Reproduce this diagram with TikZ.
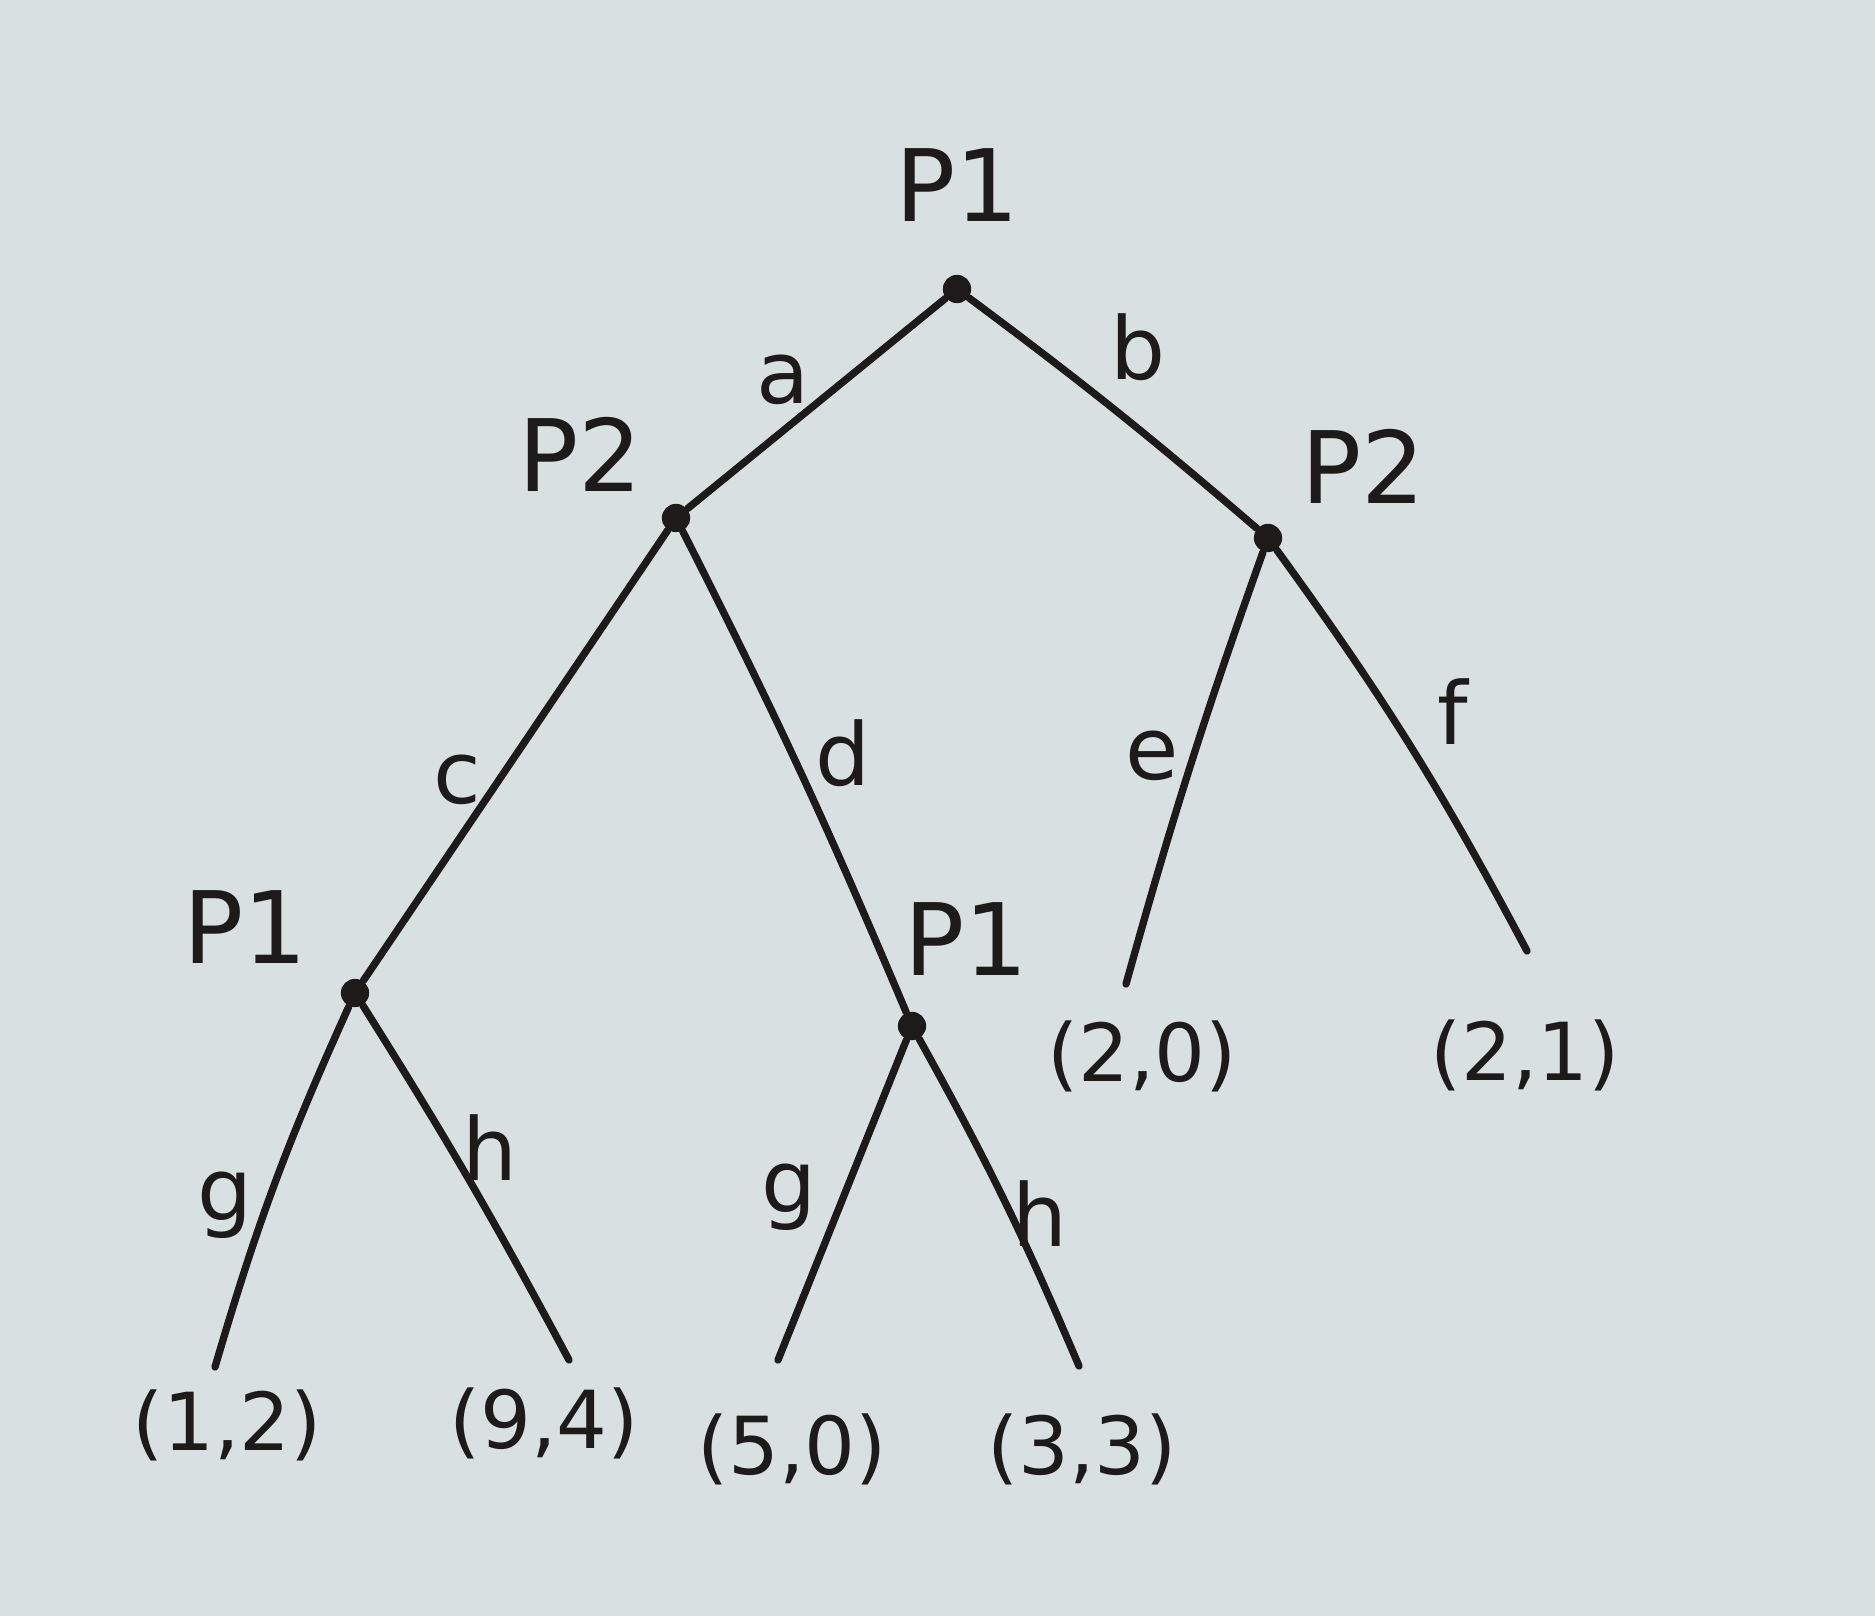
\documentclass[tikz,border=0pt]{standalone}
\usepackage{fontspec}
\setmainfont{DejaVu Sans}
\definecolor{paper}{HTML}{D9E0E1}
\definecolor{ink}{HTML}{1E1A1A}
\begin{document}
\begin{tikzpicture}[x=0.3pt,y=-0.3pt,
  dec/.style={circle,fill=ink,inner sep=0pt,minimum size=8.5pt},
  br/.style={draw=ink,line width=2.2pt,line cap=round},
  plab/.style={text=ink,font=\fontsize{30}{34}\selectfont},
  elab/.style={text=ink,font=\fontsize{26}{30}\selectfont},
  pay/.style={text=ink,font=\fontsize{24}{28}\selectfont}]
\fill[paper] (0,0) rectangle (1875,1616);
\useasboundingbox (0,0) rectangle (1875,1616);
% decision nodes
\node[dec] (r) at (957,289) {};
\node[dec] (l) at (676,518) {};
\node[dec] (rr) at (1268,538) {};
\node[dec] (ll) at (355,993) {};
\node[dec] (lm) at (912,1026) {};
% leaves
\coordinate (t1) at (215,1367);
\coordinate (t2) at (569,1360);
\coordinate (t3) at (778,1360);
\coordinate (t4) at (1079,1366);
\coordinate (t5) at (1126,984);
\coordinate (t6) at (1527,951);
% branches
\draw[br] (r) -- (l);
\draw[br] (r) to[bend left=2] (rr);
\draw[br] (l) -- (ll);
\draw[br] (l) to[bend left=2] (lm);
\draw[br] (rr) to[bend right=2] (t5);
\draw[br] (rr) to[bend left=4] (t6);
\draw[br] (ll) to[bend right=4] (t1);
\draw[br] (ll) to[bend left=2] (t2);
\draw[br] (lm) -- (t3);
\draw[br] (lm) to[bend left=3] (t4);
% player labels
\node[plab] (p0) at (957,185) {P1};
\node[plab] (p1) at (580,454) {P2};
\node[plab] (p2) at (1363,466) {P2};
\node[plab] (p3) at (245,927) {P1};
\node[plab] (p4) at (966,939) {P1};
% edge labels
\node[elab] (ea) at (783,380) {a};
\node[elab] (eb) at (1138,347) {b};
\node[elab] (ec) at (457,780) {c};
\node[elab] (ed) at (843,753) {d};
\node[elab] (ee) at (1152,756) {e};
\node[elab] (ef) at (1453,712) {f};
\node[elab] (eg1) at (225,1205) {g};
\node[elab] (eh1) at (490,1148) {h};
\node[elab] (eg2) at (789,1197) {g};
\node[elab] (eh2) at (1040,1214) {h};
% payoffs
\node[pay] (v1) at (227,1425) {(1,2)};
\node[pay] (v2) at (544,1423) {(9,4)};
\node[pay] (v3) at (792,1449) {(5,0)};
\node[pay] (v4) at (1082,1449) {(3,3)};
\node[pay] (v5) at (1142,1056) {(2,0)};
\node[pay] (v6) at (1525,1055) {(2,1)};
\end{tikzpicture}
\end{document}
